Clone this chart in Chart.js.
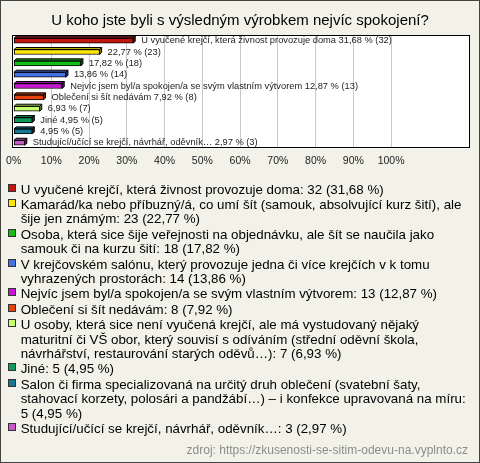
<!DOCTYPE html>
<html><head><meta charset="utf-8">
<script src="https://cdn.jsdelivr.net/npm/chart.js@4.4.0/dist/chart.umd.min.js"></script>
<style>
html,body{margin:0;padding:0;background:#F2F2E9;}
#wrap{position:relative;width:480px;height:463px;overflow:hidden;font-family:"Liberation Sans",Arial,sans-serif;}
#c{position:absolute;left:0;top:0;}
#legend{position:absolute;left:8px;top:182.5px;}
.item{display:flex;align-items:flex-start;margin-bottom:1px;}
.sw{width:8px;height:8px;border:1px solid #333;margin-top:1px;box-sizing:border-box;flex:none;}
.tx{margin-left:4.7px;width:450px;white-space:pre-line;font-size:13.33px;line-height:14.4px;color:#000;}
#src{position:absolute;right:12px;top:443px;font-size:12px;line-height:14px;color:#8C8C8C;white-space:nowrap;}
#frame{position:absolute;left:0;top:0;width:480px;height:463px;box-sizing:border-box;border:1px solid #444;pointer-events:none;}
</style></head>
<body>
<div id="wrap">
<canvas id="c" width="480" height="463"></canvas>
<div id="legend"></div>
<div id="src">zdroj: https://zkusenosti-se-sitim-odevu-na.vyplnto.cz</div>
<div id="frame"></div>
</div>
<script>
const title = "U koho jste byli s výsledným výrobkem nejvíc spokojení?";
const legendNames = [
  "U vyučené krejčí, která živnost provozuje doma",
  "Kamarád/ka nebo příbuzný/á, co umí šít (samouk, absolvující kurz šití), ale\nšije jen známým",
  "Osoba, která sice šije veřejnosti na objednávku, ale šít se naučila jako\nsamouk či na kurzu šití",
  "V krejčovském salónu, který provozuje jedna či více krejčích v k tomu\nvyhrazených prostorách",
  "Nejvíc jsem byl/a spokojen/a se svým vlastním výtvorem",
  "Oblečení si šít nedávám",
  "U osoby, která sice není vyučená krejčí, ale má vystudovaný nějaký\nmaturitní či VŠ obor, který souvisí s odíváním (střední oděvní škola,\nnávrhářství, restaurování starých oděvů…)",
  "Jiné",
  "Salon či firma specializovaná na určitý druh oblečení (svatební šaty,\nstahovací korzety, polosári a pandžábí…) – i konfekce upravovaná na míru",
  "Studující/učící se krejčí, návrhář, oděvník…"
];
const barNames = [
  "U vyučené krejčí, která živnost provozuje doma",
  "", "", "",
  "Nejvíc jsem byl/a spokojen/a se svým vlastním výtvorem",
  "Oblečení si šít nedávám",
  "",
  "Jiné",
  "",
  "Studující/učící se krejčí, návrhář, oděvník…"
];
const counts = [32, 23, 18, 14, 13, 8, 7, 5, 5, 3];
const percents = [31.68, 22.77, 17.82, 13.86, 12.87, 7.92, 6.93, 4.95, 4.95, 2.97];
const colors = ["#C4160E","#FFE600","#14BE14","#4672E6","#C814D2","#E6420E","#C8FF6E","#0E9A5A","#147890","#C85AC8"];
const tickValues = [0,10,20,30,40,50,60,70,80,90,100];

const fmt = v => v.toFixed(2).replace('.', ',');

function darker(hex, f){
  const n = parseInt(hex.slice(1),16);
  const r = Math.round(((n>>16)&255)*f), g = Math.round(((n>>8)&255)*f), b = Math.round((n&255)*f);
  return `rgb(${r},${g},${b})`;
}

// legend (HTML text)
const leg = document.getElementById('legend');
legendNames.forEach((nm,i)=>{
  const it = document.createElement('div'); it.className='item';
  const sw = document.createElement('div'); sw.className='sw'; sw.style.background = colors[i];
  const tx = document.createElement('div'); tx.className='tx';
  tx.textContent = nm + ": " + counts[i] + " (" + fmt(percents[i]) + " %)";
  it.appendChild(sw); it.appendChild(tx); leg.appendChild(it);
});

const D = 2;
const bar3d = {
  id:'bar3d',
  beforeDraw(chart){
    const a = chart.chartArea, ctx = chart.ctx;
    ctx.save(); ctx.fillStyle = '#FFFFFF';
    ctx.fillRect(a.left, a.top, a.right-a.left, a.bottom-a.top);
    ctx.restore();
  },
  afterDatasetsDraw(chart){
    const ctx = chart.ctx;
    const meta = chart.getDatasetMeta(0);
    ctx.save();
    meta.data.forEach((el,i)=>{
      const p = el.getProps(['x','y','base','height'], true);
      const xL = p.base, xR = p.x, yT = p.y - p.height/2, yB = p.y + p.height/2;
      ctx.lineWidth = 1; ctx.strokeStyle = '#000';
      ctx.fillStyle = darker(colors[i], 0.75);
      ctx.beginPath();
      ctx.moveTo(xL, yT); ctx.lineTo(xL+D, yT-D); ctx.lineTo(xR+D, yT-D); ctx.lineTo(xR, yT); ctx.closePath();
      ctx.fill(); ctx.stroke();
      ctx.fillStyle = darker(colors[i], 0.55);
      ctx.beginPath();
      ctx.moveTo(xR, yT); ctx.lineTo(xR+D, yT-D); ctx.lineTo(xR+D, yB-D); ctx.lineTo(xR, yB); ctx.closePath();
      ctx.fill(); ctx.stroke();
      const lbl = (barNames[i] ? barNames[i] + " " : "") + fmt(percents[i]) + " % (" + counts[i] + ")";
      ctx.fillStyle = '#222';
      ctx.font = '9.3px "Liberation Sans", Arial, sans-serif';
      ctx.textBaseline = 'middle'; ctx.textAlign = 'left';
      ctx.fillText(lbl, xR + D + 6, p.y);
    });
    ctx.restore();
  },
  afterDraw(chart){
    const a = chart.chartArea, ctx = chart.ctx;
    ctx.save(); ctx.strokeStyle = '#000'; ctx.lineWidth = 1;
    ctx.strokeRect(Math.round(a.left)+0.5, Math.round(a.top)+0.5, Math.round(a.right-a.left)-1, Math.round(a.bottom-a.top)-1);
    ctx.restore();
  }
};

new Chart(document.getElementById('c'), {
  type:'bar',
  data:{
    labels: legendNames,
    datasets:[{
      data: percents,
      backgroundColor: colors,
      borderColor:'#000',
      borderWidth:1,
      barThickness:5,
      borderSkipped:false
    }]
  },
  options:{
    indexAxis:'y',
    responsive:false,
    animation:false,
    events:[],
    layout:{padding:{left:10,right:10,top:0,bottom:290}},
    plugins:{
      legend:{display:false},
      tooltip:{enabled:false},
      title:{display:true,text:title,color:'#000',
        font:{family:'"Liberation Sans", Arial, sans-serif',size:15,weight:'normal'},
        padding:{top:12,bottom:5}}
    },
    scales:{
      x:{
        min:-0.5, max:120.9,
        afterBuildTicks(s){ s.ticks = tickValues.map(v=>({value:v})); },
        ticks:{callback:v=>v+'%',color:'#222',padding:6,maxRotation:0,autoSkip:false,
          font:{family:'"Liberation Sans", Arial, sans-serif',size:10.5}},
        grid:{drawTicks:false,color:ctx=> (ctx.tick && ctx.tick.value===0) ? 'rgba(0,0,0,0)' : '#C8C8C8'},
        border:{display:false}
      },
      y:{display:false}
    }
  },
  plugins:[bar3d]
});
</script>
</body></html>
